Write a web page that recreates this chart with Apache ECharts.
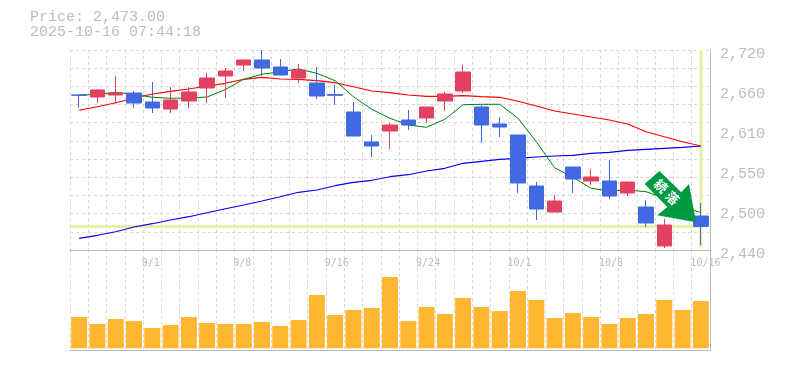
<!DOCTYPE html>
<html><head><meta charset="utf-8">
<style>html,body{margin:0;padding:0;background:#fff}#c{width:785px;height:370px}</style>
<script src="https://cdn.jsdelivr.net/npm/echarts@6/dist/echarts.min.js"></script>
</head><body><div id="c"></div>
<script>
const categories = ['8/26','8/27','8/28','8/29','9/1','9/2','9/3','9/4','9/5','9/8','9/9','9/10','9/11','9/12','9/16','9/17','9/18','9/19','9/22','9/24','9/25','9/26','9/29','9/30','10/1','10/2','10/3','10/6','10/7','10/8','10/9','10/10','10/14','10/15','10/16'];
const tickLabels = ['9/1','9/8','9/16','9/24','10/1','10/8','10/16'];
const priceLabels = ['2,440','2,500','2,550','2,610','2,660','2,720'];
const headerLines = ['Price: 2,473.00','2025-10-16 07:44:18'];
const lastPrice = 2473;
// [open, close, low, high]
const candles = [
 [2657,2656.6,2639.2,2658],[2654.2,2664,2645.8,2665.4],[2657,2659.8,2645.4,2683.6],[2659.8,2645.8,2638.8,2662.6],[2647.2,2638.8,2631.8,2675.2],
 [2637.4,2650,2631.8,2668.2],[2648.6,2661.2,2638.8,2668.2],[2666.8,2680.8,2645.8,2687.8],[2683.6,2690.6,2652.8,2694.8],[2699,2706,2690.6,2706],
 [2706,2694.8,2683.6,2720],[2696.2,2685,2685,2707.4],[2680.8,2692,2673.8,2700.4],[2673.8,2655.6,2651.4,2696.2],[2657.6,2656.6,2643,2671],
 [2633.2,2599.6,2599.6,2647.2],[2591.2,2585.6,2570.2,2601],[2606.6,2615,2581.4,2617.8],[2622,2615,2608,2636],[2624.8,2640.2,2617.8,2640.2],
 [2648.6,2658.4,2634.6,2661.2],[2662.6,2689.2,2659.8,2699],[2640.2,2615,2589.8,2643],[2616.4,2612.2,2598.2,2626.2],[2601,2533.8,2519.8,2601],
 [2529.6,2497.4,2482,2535.2],[2493.2,2508.6,2493.2,2517],[2556.2,2539.4,2519.8,2556.2],[2536.6,2542.2,2531,2553.4],[2536.6,2515.6,2511.4,2566],
 [2519.8,2535.2,2515.6,2535.2],[2500.2,2477.8,2472.2,2510],[2445.6,2475,2442.8,2483.4],[2517,2493,2490,2520],[2487.6,2473,2447,2505.8]
];
const maShort = [2657,2657.7,2660.8,2658,2653.8,2652.4,2652.8,2654.2,2664.7,2679,2686,2689.6,2693.4,2687.4,2677,2654.6,2637,2624.4,2615,2611.8,2623,2643.4,2644,2644,2624.4,2591.6,2555.2,2541.8,2526.4,2522.6,2524,2521.6,2512.8,2501.6,2492.2];
const maMid = [2635.6,2640.6,2646.2,2652.4,2658.4,2662.2,2665.4,2669.6,2673.4,2679,2681.8,2679.4,2679,2677,2674.2,2668.6,2662.6,2660.2,2657,2655.2,2655.2,2656,2654.6,2653.8,2648.2,2641.6,2634.6,2630.4,2626.2,2622,2616.4,2605.6,2598.6,2591.6,2585.6];
const maLong = [2456.4,2460.6,2465.6,2472.2,2476.8,2482,2486.6,2492.2,2497.8,2503,2508.6,2514.6,2520.8,2524,2530,2534.8,2537.6,2542.6,2545.4,2550.6,2554.4,2561.4,2564.2,2567,2568.4,2570.2,2571.6,2572.6,2575.4,2576.8,2579.6,2581,2582.4,2583.8,2585.6];
const volumes = [31.3,24.3,29.3,27.3,20.3,23.3,31.3,25.3,24.3,24.3,26.3,22.3,28.3,53.3,33.3,38.3,40.3,71.3,27.3,41.3,34.3,50.3,41.3,37.3,57.3,48.3,30.3,35.3,31.3,24.3,30.3,34.3,48.3,38.3,47.3];
const arrowPoints = [[659.3,171],[644.7,184],[667.3,207],[657.3,215.3],[696,222.3],[689,184],[681.3,192.3]];
const arrowChars = [['続',661,186],['落',672.5,198]];

const GREY='#bcbcbc', DASH='#d8d8d8', MONO='"Liberation Mono", monospace', MONO_SMALL='"DejaVu Sans Mono", monospace';
const dash={color:DASH,width:1,type:[3,3]};
const chart=echarts.init(document.getElementById('c'),null,{renderer:'canvas'});
chart.setOption({
 animation:false,
 backgroundColor:'#fff',
 title:{left:30,top:10,padding:0,text:headerLines.join('\n'),textStyle:{fontFamily:MONO,fontSize:15,fontWeight:'normal',color:GREY,lineHeight:15}},
 grid:[{left:70,top:50,width:640,height:200},{left:70,top:250,width:640,height:100}],
 xAxis:[
  {type:'category',gridIndex:0,data:categories,boundaryGap:true,
   axisLine:{onZero:false,lineStyle:{color:GREY,width:1}},axisTick:{show:false},
   splitLine:{show:true,interval:0,lineStyle:dash},
   axisLabel:{show:true,interval:(i,v)=>tickLabels.includes(v),align:'left',padding:[0,0,0,-10.5],margin:8,color:GREY,fontFamily:MONO_SMALL,fontSize:10}},
  {type:'category',gridIndex:1,data:categories,boundaryGap:true,
   axisLine:{onZero:false,lineStyle:{color:GREY,width:1}},axisTick:{show:false},
   splitLine:{show:true,interval:0,lineStyle:dash},axisLabel:{show:false}},
  {type:'value',gridIndex:0,min:0,max:35,show:false}
 ],
 yAxis:[
  {type:'value',gridIndex:0,position:'right',min:2440,max:2720,interval:56,
   axisLine:{show:true,onZero:false,lineStyle:{color:GREY,width:1}},axisTick:{show:false},splitLine:{show:false},
   axisLabel:{show:true,margin:10,color:GREY,fontFamily:MONO,fontSize:15,verticalAlign:'top',padding:[-3,0,0,0],formatter:(v,i)=>priceLabels[i]}},
  {type:'value',gridIndex:0,min:0,max:11,interval:1,axisLine:{show:false},axisTick:{show:false},axisLabel:{show:false},splitLine:{show:true,lineStyle:dash}},
  {type:'value',gridIndex:1,position:'right',min:-1.7,max:98.3,
   axisLine:{show:true,onZero:false,lineStyle:{color:GREY,width:1}},axisTick:{show:false},axisLabel:{show:false},splitLine:{show:false}}
 ],
 series:[
  {type:'line',xAxisIndex:2,yAxisIndex:0,data:[[0,lastPrice],[34.5,lastPrice]],symbol:'none',silent:true,z:1,lineStyle:{color:'#e2f2a0',width:3}},
  {type:'line',xAxisIndex:2,yAxisIndex:0,data:[[34.5,2720],[34.5,2443]],symbol:'none',silent:true,z:1,lineStyle:{color:'#e2f2a0',width:3}},
  {type:'line',xAxisIndex:0,yAxisIndex:0,data:maLong,symbol:'none',z:2,lineStyle:{color:'#0000ff',width:1.2}},
  {type:'line',xAxisIndex:0,yAxisIndex:0,data:maMid,symbol:'none',z:2,lineStyle:{color:'#ff0000',width:1.2}},
  {type:'line',xAxisIndex:0,yAxisIndex:0,data:maShort,symbol:'none',z:2,lineStyle:{color:'#008000',width:1}},
  {type:'candlestick',xAxisIndex:0,yAxisIndex:0,data:candles,barWidth:15,z:3,
   itemStyle:{color:'#e34161',color0:'#4169e1',borderColor:'#e34161',borderColor0:'#4169e1',borderWidth:1}},
  {type:'bar',xAxisIndex:1,yAxisIndex:2,data:volumes,barWidth:16,itemStyle:{color:'#ffb733'}}
 ],
 graphic:[
  {type:'polygon',z:100,shape:{points:arrowPoints},style:{fill:'#009944'}},
  ...arrowChars.map(([t,x,y])=>({type:'text',z:101,x,y,rotation:-Math.PI/4,style:{text:t,fill:'#fff',font:'bold 13px "Noto Sans CJK JP"',align:'center',verticalAlign:'middle'}}))
 ]
});
</script></body></html>
